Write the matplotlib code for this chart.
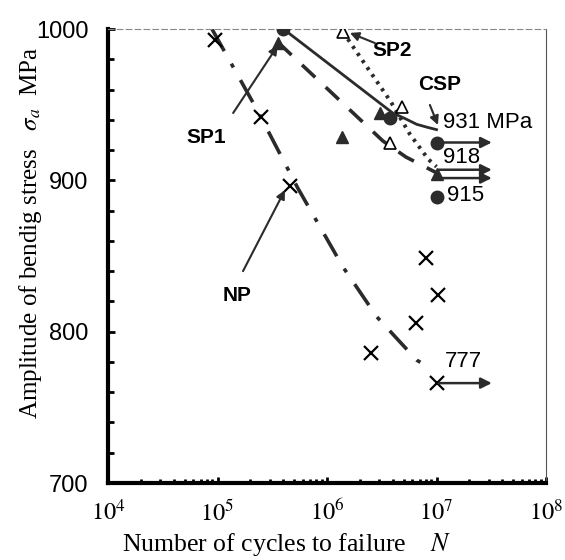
import matplotlib
matplotlib.use("Agg")
import matplotlib.pyplot as plt
from matplotlib.ticker import MultipleLocator, LogLocator, FixedLocator
import numpy as np

plt.rcParams['mathtext.fontset'] = 'stix'

# ---- data ----
# NP (crosses + dash-dot curve)
np_n = [9.5e4, 2.5e5, 4.6e5, 2.5e6, 6.5e6, 8.0e6, 1.03e7, 1.0e7]
np_s = [993, 942, 896, 786, 806, 849, 824, 766]
np_curve_n = [8.9e4, 2.3e5, 5.4e5, 1.4e6, 2.86e6, 6.6e6, 8.7e6]
np_curve_s = [1000, 946.5, 895, 842.7, 809.7, 781.2, 776]

# SP1 (filled triangles + dashed curve)
sp1_n = [3.6e5, 1.37e6, 3.05e6, 1.0e7]
sp1_s = [991, 928.6, 944.5, 904]
sp1_curve_n = [3.6e5, 5.3e5, 3.24e6, 5.26e6, 1.0e7]
sp1_curve_s = [991, 979.5, 926, 915.4, 905]

# SP2 (open triangles + dotted curve)
sp2_n = [1.4e6, 4.84e6, 3.76e6]
sp2_s = [998, 948.5, 924.7]
sp2_curve_n = [1.4e6, 3.84e6, 5.7e6, 8.4e6, 1.0e7]
sp2_curve_s = [998, 951.7, 930.6, 914, 909]

# CSP (filled circles + solid curve)
csp_n = [4.0e5, 3.76e6, 1.0e7, 1.0e7]
csp_s = [1000, 941, 925, 889]
csp_curve_n = [4.0e5, 3.98e6, 5.1e6, 6.6e6, 8.3e6, 1.0e7]
csp_curve_s = [1000, 944.5, 941, 937, 935, 933.5]

# run-out arrows (start n, stress, end n)
runout_s = [925, 907, 901.5, 766]
runout_n0 = 1.05e7
runout_n1 = 3.2e7

# value labels
value_texts = ["931 MPa", "918", "915", "777"]
value_n = [1.15e7, 1.15e7, 1.25e7, 1.2e7]
value_s = [938.5, 915.4, 890.3, 780]

# series name labels: text position, arrow start, arrow tip
name_texts = ["SP1", "NP", "SP2", "CSP"]
name_pos = [(7.85e4, 928.6), (1.51e5, 824), (3.93e6, 986), (1.07e7, 963)]
name_from = [(1.39e5, 944.5), (1.71e5, 840), (2.74e6, 990.7), (8.7e6, 949.8)]
name_to = [(3.55e5, 989), (4.13e5, 893.6), (1.62e6, 997.4), (1.03e7, 936.6)]

x_major = [1e4, 1e5, 1e6, 1e7, 1e8]
x_labels = [r'$10^{4}$', r'$10^{5}$', r'$10^{6}$', r'$10^{7}$', r'$10^{8}$']
y_major = [700, 800, 900, 1000]

fig = plt.figure(figsize=(5.65, 5.6), dpi=100)
ax = fig.add_axes([108 / 565, 1 - 483 / 560, (546 - 108) / 565, (483 - 29) / 560])

ax.set_xscale('log')
ax.set_xlim(1e4, 1e8)
ax.set_ylim(700, 1000)

dark = '#2b2b2b'

# curves
ax.plot(np_curve_n, np_curve_s, color=dark, lw=2.6, dashes=(7, 4, 1.2, 4), zorder=2)
ax.plot(sp1_curve_n, sp1_curve_s, color=dark, lw=2.6, dashes=(5, 4), zorder=2)
ax.plot(sp2_curve_n, sp2_curve_s, color=dark, lw=2.8, dashes=(0.8, 1.4), zorder=2)
ax.plot(csp_curve_n, csp_curve_s, color=dark, lw=2.0, zorder=2)

# points
ax.plot(np_n, np_s, ls='none', marker='x', ms=10, mew=1.6, color='black', zorder=3)
ax.plot(sp1_n, sp1_s, ls='none', marker='^', ms=9, color=dark, mec=dark, zorder=3)
ax.plot(sp2_n, sp2_s, ls='none', marker='^', ms=9, mfc='white', mec='black', mew=1.2, zorder=3)
ax.plot(csp_n, csp_s, ls='none', marker='o', ms=9, color=dark, mec=dark, zorder=3)

# run-out arrows
for s in runout_s:
    ax.annotate('', xy=(runout_n1, s), xytext=(runout_n0, s),
                arrowprops=dict(arrowstyle='-|>', color=dark, lw=1.8, mutation_scale=16,
                                shrinkA=0, shrinkB=0))

# value labels
for t, n, s in zip(value_texts, value_n, value_s):
    ax.text(n, s, t, ha='left', va='center', fontsize=16, family='Liberation Sans')

# names with leader arrows
for t, pos, p0, p1 in zip(name_texts, name_pos, name_from, name_to):
    ax.text(pos[0], pos[1], t, ha='center', va='center', fontsize=15,
            family='Liberation Sans', fontweight='bold')
    ax.annotate('', xy=p1, xytext=p0,
                arrowprops=dict(arrowstyle='-|>', color=dark, lw=1.5, mutation_scale=13,
                                shrinkA=0, shrinkB=0))

# spines
ax.spines['left'].set_linewidth(3)
ax.spines['bottom'].set_linewidth(3)
ax.spines['right'].set_linewidth(0.8)
ax.spines['right'].set_color('#555555')
ax.spines['top'].set_linewidth(0.8)
ax.spines['top'].set_color('#888888')
ax.spines['top'].set_linestyle((0, (5, 3)))

# ticks
ax.yaxis.set_major_locator(FixedLocator(y_major))
ax.yaxis.set_minor_locator(MultipleLocator(20))
ax.xaxis.set_major_locator(FixedLocator(x_major))
ax.xaxis.set_minor_locator(LogLocator(base=10, subs=np.arange(2, 10), numticks=20))
ax.set_xticklabels(x_labels)
ax.tick_params(axis='both', which='both', direction='in', top=False, right=False)
ax.tick_params(axis='y', which='major', length=5, width=2, pad=14, labelsize=17)
ax.tick_params(axis='y', which='minor', length=4, width=2)
ax.tick_params(axis='x', which='major', length=4, width=2, pad=12, labelsize=17.5)
ax.tick_params(axis='x', which='minor', length=3, width=2)
for lab in ax.get_yticklabels():
    lab.set_family('Liberation Sans')

# axis titles
fig.text(287 / 565, 1 - 545 / 560, r'Number of cycles to failure    $N$',
         ha='center', va='center', fontsize=18.5, family='Liberation Serif')
fig.text(31 / 565, 1 - 233 / 560, r'Amplitude of bendig stress   $\sigma_a$  MPa',
         ha='center', va='center', rotation=90, fontsize=18, family='Liberation Serif')

fig.savefig('out.png', dpi=100)
